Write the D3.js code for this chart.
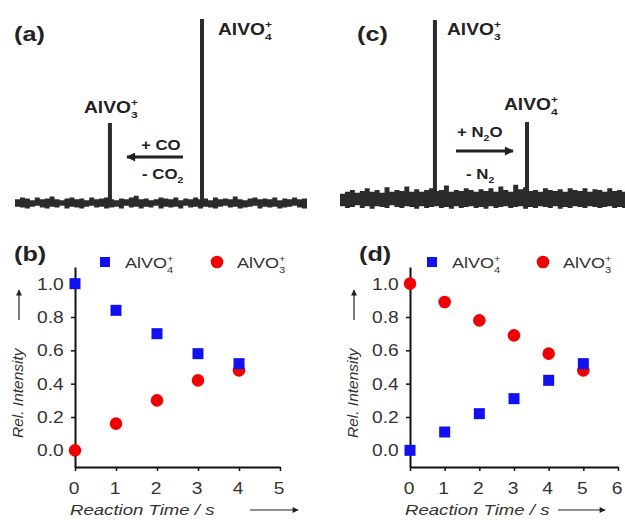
<!DOCTYPE html>
<html>
<head>
<meta charset="utf-8">
<script src="https://cdn.jsdelivr.net/npm/d3@7"></script>
<style>
  body { margin: 0; background: #fff; }
  svg { font-family: "Liberation Sans", Arial, sans-serif; }
</style>
</head>
<body>
<svg id="chart" width="625" height="520"></svg>
<script>
// ---- spectra (top row), intensity in % of the tallest peak ----
const peakMz = [126, 142];              // AlVO3+, AlVO4+
const peakA = [43.5, 100];              // (a)
const peakC = [100, 43];                // (c)
const noiseTopA = [2,3,2.5,1.5,3,2,2.5,3.5,2,1.5,2.5,3,2,2.5,1.5,3,2,2.5,3,2,1.5,2.5,2,3,4,2,2.5,1.5,2,3,2.5,2,3,1.5,2.5,2,3,2,2.5,1.5,3,2,2.5,2,3.5,2,1.5,2.5,3,2,2.5,2,3,1.5,2.5,2,3,2,2.5,2];
const noiseBotA = [-2,-2.5,-3,-2,-1.5,-2.5,-3,-2,-2.5,-1.5,-3,-2,-2.5,-3,-2,-1.5,-2.5,-2,-3,-2.5,-2,-3,-1.5,-2.5,-2,-3,-2,-2.5,-1.5,-3,-2,-2.5,-2,-3,-1.5,-2.5,-2,-3,-2,-2.5,-3,-2,-1.5,-2.5,-2,-3,-2.5,-2,-1.5,-3,-2,-2.5,-2,-3,-2.5,-2,-1.5,-2.5,-3,-2];
const noiseTopC = [3,4,5,3.5,4.5,6,4,5,3.5,6.5,4,5,4.5,7,4,5.5,4,5,6,4.5,5,7.5,4,5,4.5,6,5,4,5.5,4.5,6,4,7,5,4,8,5.5,6.5,4.5,5,4,6,5,4.5,5.5,4,6,5,4.5,6,4,5.5,5,4,6,4.5,5,4,5.5,5];
const noiseBotC = [-4,-5,-4.5,-3.5,-5,-4,-5.5,-4,-4.5,-5,-3.5,-4.5,-5,-4,-4.5,-5.5,-4,-5,-4.5,-4,-5,-4.5,-5.5,-4,-5,-4.5,-4,-5,-4.5,-5.5,-4,-5,-4.5,-4,-5,-4.5,-4,-5.5,-4.5,-5,-4,-4.5,-5,-4,-5.5,-4.5,-5,-4,-4.5,-5,-4,-4.5,-5,-4.5,-4,-5,-4.5,-5,-4,-4.5];

// ---- kinetics (bottom row) ----
const times_b = [0, 1, 2, 3, 4];
const vo4_b = [1.00, 0.84, 0.70, 0.58, 0.52];
const vo3_b = [0.00, 0.16, 0.30, 0.42, 0.48];
const times_d = [0, 1, 2, 3, 4, 5];
const vo4_d = [0.00, 0.11, 0.22, 0.31, 0.42, 0.52];
const vo3_d = [1.00, 0.89, 0.78, 0.69, 0.58, 0.48];
const yTicks = [0, 0.2, 0.4, 0.6, 0.8, 1.0];
const yMinor = [0.1, 0.3, 0.5, 0.7, 0.9];
const xTicks_b = [0, 1, 2, 3, 4, 5];
const xMinor_b = [0.5, 1.5, 2.5, 3.5, 4.5];
const xTicks_d = [0, 1, 2, 3, 4, 5, 6];
const xMinor_d = [0.5, 1.5, 2.5, 3.5, 4.5, 5.5];

const BLUE = "#1010f0", RED = "#f00000", INK = "#2b2b2b";
const SX = 1.2;   // the figure is a bit wider than tall
const svg = d3.select("#chart");

const defs = svg.append("defs");
function arrowHead(id, w, h) {
  defs.append("marker").attr("id", id)
    .attr("viewBox", "0 0 10 10").attr("refX", 9).attr("refY", 5)
    .attr("markerWidth", w).attr("markerHeight", h).attr("orient", "auto")
    .attr("markerUnits", "userSpaceOnUse")
    .append("path").attr("d", "M0,0 L10,5 L0,10 z").attr("fill", "#222");
}
arrowHead("head", 8, 6);
arrowHead("bighead", 12, 9);

// text with optional sub/sup parts: parts = [[str, kind], ...]
function label(x, y, parts, size, opts) {
  opts = opts || {};
  const g = svg.append("g").attr("transform", "translate(" + x + "," + y + ") scale(" + SX + ",1)");
  const t = g.append("text").attr("font-size", size)
    .attr("font-weight", opts.bold ? "bold" : "normal")
    .attr("font-style", opts.italic ? "italic" : "normal")
    .attr("fill", opts.fill || "#222");
  let level = 0;
  parts.forEach(function(p) {
    const kind = p[1] || "n";
    const ts = t.append("tspan").text(p[0]);
    if (kind == "sub") {
      ts.attr("font-size", size * 0.62).attr("dy", size * 0.3 - level);
      level = size * 0.3;
    } else if (kind == "supx") {  // superscript stacked over previous subscript digit
      ts.attr("font-size", size * 0.62).attr("dx", -size * 0.62 * 0.556).attr("dy", -size * 0.72);
      level = level - size * 0.72;
    } else {
      ts.attr("dy", -level);
      level = 0;
    }
  });
  return g;
}

// ---- spectrum panels ----
function spectrum(x0, base, top, peaks, nTop, nBot) {
  const x = d3.scaleLinear().domain([109.5, 160.25]).range([x0, x0 + 292]);
  const y = d3.scaleLinear().domain([0, 100]).range([base, top]);
  const idx = d3.scaleLinear().domain([0, nTop.length - 1]).range(x.domain());
  const area = d3.area()
    .x(function(d, i) { return x(idx(i)); })
    .y0(function(d, i) { return y(nBot[i]); })
    .y1(function(d) { return y(d); })
    .curve(d3.curveStepAfter);
  svg.append("path").datum(nTop).attr("d", area).attr("fill", INK);
  svg.selectAll(null).data(peaks).enter().append("rect")
    .attr("x", function(d, i) { return x(peakMz[i]) - 2; })
    .attr("width", 4)
    .attr("y", function(d) { return y(d); })
    .attr("height", function(d) { return base - y(d); })
    .attr("fill", INK);
}
spectrum(15, 203, 19, peakA, noiseTopA, noiseBotA);
spectrum(340, 199, 20, peakC, noiseTopC, noiseBotC);

label(14, 41, [["(a)"]], 21, {bold: true});
label(218, 35, [["AlVO"], ["4", "sub"], ["+", "supx"]], 16, {bold: true});
label(84, 113, [["AlVO"], ["3", "sub"], ["+", "supx"]], 16, {bold: true});
label(141, 150, [["+ CO"]], 14, {bold: true});
label(142, 179, [["- CO"], ["2", "sub"]], 14, {bold: true});
svg.append("line").attr("x1", 183).attr("x2", 127).attr("y1", 157).attr("y2", 157)
  .attr("stroke", "#222").attr("stroke-width", 3).attr("marker-end", "url(#bighead)");

label(357, 41, [["(c)"]], 21, {bold: true});
label(447, 35, [["AlVO"], ["3", "sub"], ["+", "supx"]], 16, {bold: true});
label(504, 110, [["AlVO"], ["4", "sub"], ["+", "supx"]], 16, {bold: true});
label(457, 137, [["+ N"], ["2", "sub"], ["O"]], 14, {bold: true});
label(466, 179, [["- N"], ["2", "sub"]], 14, {bold: true});
svg.append("line").attr("x1", 456).attr("x2", 513).attr("y1", 151).attr("y2", 151)
  .attr("stroke", "#222").attr("stroke-width", 3).attr("marker-end", "url(#bighead)");

// ---- kinetics panels ----
function kinetics(o) {
  const x = d3.scaleLinear().domain(o.xDomain).range(o.xRange);
  const y = d3.scaleLinear().domain([-0.1, 1.1]).range([467, 267]);
  const gx = svg.append("g").attr("transform", "translate(0,467)");
  gx.call(d3.axisBottom(x).tickValues(o.minor).tickSize(3).tickSizeOuter(0).tickFormat(""));
  gx.call(d3.axisBottom(x).tickValues(o.ticks).tickSize(4).tickSizeOuter(0).tickFormat(""));
  const gy = svg.append("g").attr("transform", "translate(" + o.xRange[0] + ",0)");
  gy.call(d3.axisLeft(y).tickValues(yMinor).tickSize(2).tickSizeOuter(0).tickFormat(""));
  gy.call(d3.axisLeft(y).tickValues(yTicks).tickSize(4).tickSizeOuter(0).tickFormat(""));
  svg.selectAll(".domain").attr("stroke", "#111").attr("stroke-width", 2);
  svg.selectAll(".tick line").attr("stroke", "#111").attr("stroke-width", 1.5);

  // tick labels (stretched like the rest of the text)
  o.ticks.forEach(function(v) {
    label(x(v) - 5.3 * SX, 494, [[String(v)]], 16, {fill: "#333"});
  });
  yTicks.forEach(function(v) {
    label(o.xRange[0] - 38, y(v) + 6, [[d3.format(".1f")(v)]], 16, {fill: "#333"});
  });

  svg.append("g").selectAll("circle").data(o.vo3).enter().append("circle")
    .attr("cx", function(d, i) { return x(o.times[i]); })
    .attr("cy", function(d) { return y(d); })
    .attr("r", 6.3).attr("fill", RED);
  svg.append("g").selectAll("rect").data(o.vo4).enter().append("rect")
    .attr("x", function(d, i) { return x(o.times[i]) - 5.5; })
    .attr("y", function(d) { return y(d) - 5.5; })
    .attr("width", 11).attr("height", 11).attr("fill", BLUE);

  // legend
  label(o.tag[0], 261, [[o.tag[1]]], 21, {bold: true});
  svg.append("rect").attr("x", o.leg[0] - 5).attr("y", 257).attr("width", 10).attr("height", 10).attr("fill", BLUE);
  label(o.leg[0] + 20, 268, [["AlVO"], ["4", "sub"], ["+", "supx"]], 15, {fill: "#333"});
  svg.append("circle").attr("cx", o.leg[1]).attr("cy", 262).attr("r", 6.3).attr("fill", RED);
  label(o.leg[1] + 20, 268, [["AlVO"], ["3", "sub"], ["+", "supx"]], 15, {fill: "#333"});

  // axis titles
  label(o.xRange[0] - 5, 515, [["Reaction Time / s"]], 15.5, {italic: true, fill: "#333"});
  svg.append("line").attr("x1", o.arrowX[0]).attr("x2", o.arrowX[1]).attr("y1", 510).attr("y2", 510)
    .attr("stroke", "#222").attr("stroke-width", 1.2).attr("marker-end", "url(#head)");
  svg.append("text").attr("transform", "translate(" + (o.xRange[0] - 52) + ",438) rotate(-90)")
    .attr("font-size", 15.5).attr("font-style", "italic").attr("fill", "#333")
    .text("Rel. Intensity");
  svg.append("line").attr("x1", o.xRange[0] - 56).attr("x2", o.xRange[0] - 56).attr("y1", 320).attr("y2", 290)
    .attr("stroke", "#222").attr("stroke-width", 1.2).attr("marker-end", "url(#head)");
}

kinetics({xDomain: [0, 5], xRange: [75, 280], ticks: xTicks_b, minor: xMinor_b,
  times: times_b, vo4: vo4_b, vo3: vo3_b, tag: [14, "(b)"], leg: [105, 217], arrowX: [250, 298]});
kinetics({xDomain: [0, 6], xRange: [410, 618], ticks: xTicks_d, minor: xMinor_d,
  times: times_d, vo4: vo4_d, vo3: vo3_d, tag: [359, "(d)"], leg: [432, 543], arrowX: [558, 605]});
</script>
</body>
</html>
